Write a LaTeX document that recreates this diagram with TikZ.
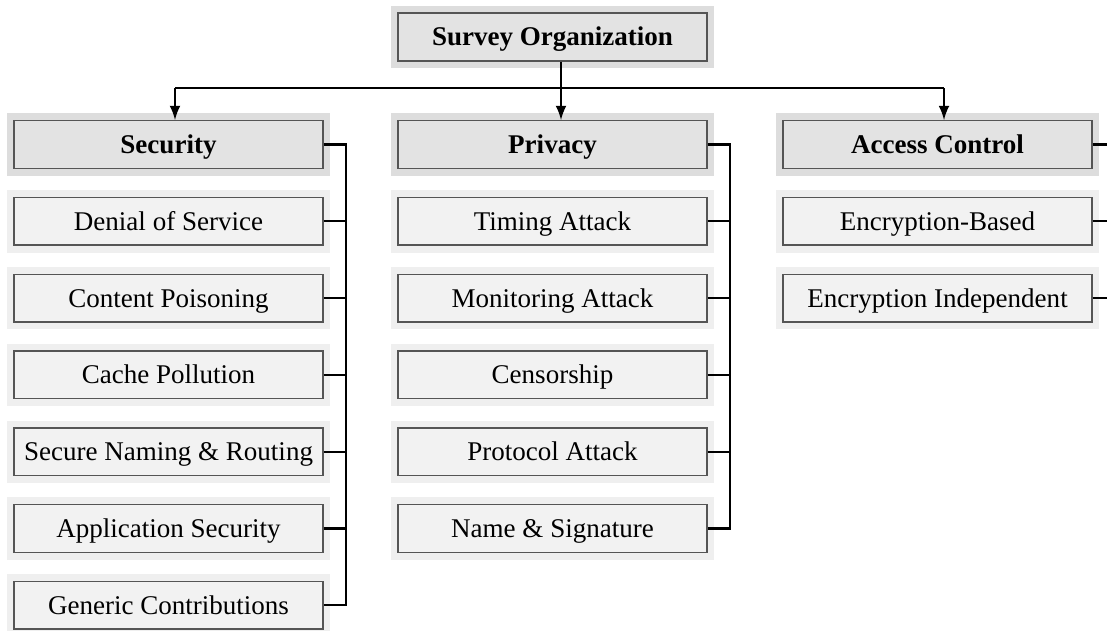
\documentclass[tikz,border=0pt]{standalone}
\usepackage{fontspec}
\setmainfont{Liberation Serif}
\usepackage{tikz}
\definecolor{hfill}{HTML}{E3E3E3}
\definecolor{hframe}{HTML}{DDDDDD}
\definecolor{ifill}{HTML}{F2F2F2}
\definecolor{iframe}{HTML}{EFEFEF}
\definecolor{bline}{HTML}{555555}
\tikzset{box/.style 2 args = {draw=bline, fill=#1, line width=0.55pt,
    preaction={draw=#2, line width=5.5pt},
    minimum width=114.3pt, minimum height=17.6pt, inner sep=0pt,
    text height=9pt, text depth=2.4pt}}
\tikzset{item/.style = {box={ifill}{iframe}}}
\tikzset{head/.style = {box={hfill}{hframe}, font=\bfseries}}
\tikzset{wire/.style = {line width=0.8pt}}

\begin{document}
\begin{tikzpicture}[x=0.37pt, y=-0.37pt, >=latex]
      \useasboundingbox (0,0) rectangle (1107,630);
      \node [head] (survey) at (552.5,37) {Survey Organization};
      % security column
      \node [head] (sec) at (168.5,144.5) {Security};
      \node [item] (dos) at (168.5,221.3) {Denial of Service};
      \node [item] (poison) at (168.5,298.1) {Content Poisoning};
      \node [item] (pollution) at (168.5,374.9) {Cache Pollution};
      \node [item] (naming) at (168.5,451.7) {Secure Naming \& Routing};
      \node [item] (appsec) at (168.5,528.5) {Application Security};
      \node [item] (generic) at (168.5,605.3) {Generic Contributions};
      % privacy column
      \node [head] (priv) at (552.5,144.5) {Privacy};
      \node [item] (timing) at (552.5,221.3) {Timing Attack};
      \node [item] (monitor) at (552.5,298.1) {Monitoring Attack};
      \node [item] (censor) at (552.5,374.9) {Censorship};
      \node [item] (protocol) at (552.5,451.7) {Protocol Attack};
      \node [item] (signature) at (552.5,528.5) {Name \& Signature};
      % access control column
      \node [head] (acc) at (937.5,144.5) {Access Control};
      \node [item] (encbased) at (937.5,221.3) {Encryption-Based};
      \node [item] (encindep) at (937.5,298.1) {Encryption Independent};
      % top level split
      \coordinate (jsec) at (175,88);
      \coordinate (jpriv) at (561,88);
      \coordinate (jacc) at (944,88);
      \draw [wire] (survey.south -| jpriv) -- (jpriv);
      \draw [wire] (jsec) -- (jacc);
      \draw [wire, ->] (jsec) -- (jsec |- sec.north);
      \draw [wire, ->] (jpriv) -- (jpriv |- priv.north);
      \draw [wire, ->] (jacc) -- (jacc |- acc.north);
      % buses
      \coordinate (secbus) at (346,0);
      \coordinate (privbus) at (730,0);
      \coordinate (accbus) at (1107,0);
      \draw [wire] (sec.east) -- (sec.east -| secbus) -- (generic.east -| secbus) -- (generic.east);
      \draw [wire] (dos.east) -- (dos.east -| secbus);
      \draw [wire] (poison.east) -- (poison.east -| secbus);
      \draw [wire] (pollution.east) -- (pollution.east -| secbus);
      \draw [wire] (naming.east) -- (naming.east -| secbus);
      \draw [wire] (appsec.east) -- (appsec.east -| secbus);
      \draw [wire] (priv.east) -- (priv.east -| privbus) -- (signature.east -| privbus) -- (signature.east);
      \draw [wire] (timing.east) -- (timing.east -| privbus);
      \draw [wire] (monitor.east) -- (monitor.east -| privbus);
      \draw [wire] (censor.east) -- (censor.east -| privbus);
      \draw [wire] (protocol.east) -- (protocol.east -| privbus);
      \draw [wire] (acc.east) -- (acc.east -| accbus);
      \draw [wire] (encbased.east) -- (encbased.east -| accbus);
      \draw [wire] (encindep.east) -- (encindep.east -| accbus);
    \end{tikzpicture}
\end{document}
